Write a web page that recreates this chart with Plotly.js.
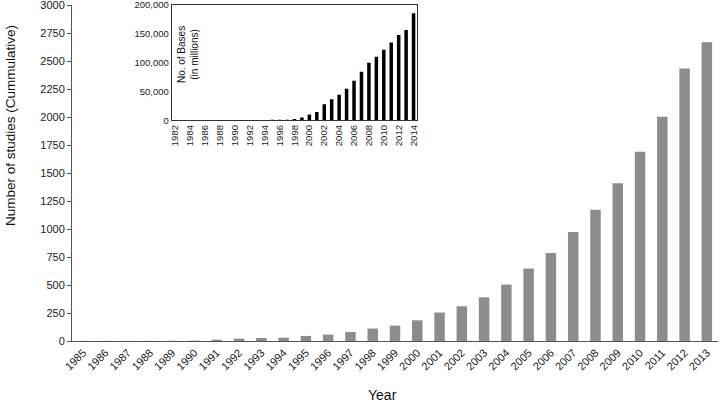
<!DOCTYPE html>
<html>
<head>
<meta charset="utf-8">
<script src="https://cdn.plot.ly/plotly-3.0.1.min.js"></script>
<style>html,body{margin:0;padding:0;background:#fff;}#chart{width:720px;height:402px;}</style>
</head>
<body>
<div id="chart"></div>
<script>
const studyYears = [1985,1986,1987,1988,1989,1990,1991,1992,1993,1994,1995,1996,1997,1998,1999,2000,2001,2002,2003,2004,2005,2006,2007,2008,2009,2010,2011,2012,2013];
const studies = [1,1,1,1,2,3,12,21,27,30,45,57,80,111,137,185,254,310,390,504,647,786,974,1171,1409,1689,2002,2434,2667];

const baseYears = [1982,1983,1984,1985,1986,1987,1988,1989,1990,1991,1992,1993,1994,1995,1996,1997,1998,1999,2000,2001,2002,2003,2004,2005,2006,2007,2008,2009,2010,2011,2012,2013,2014];
const bases = [0,0,0,0,0,0,0,0,300,400,400,500,600,700,800,1000,2200,4700,9800,14400,27700,36300,44400,54800,68600,84200,99700,110100,122200,134800,148100,156800,185500];

const mainYTicks = [0,250,500,750,1000,1250,1500,1750,2000,2250,2500,2750,3000];
const insetYTicks = [0,50000,100000,150000,200000];

const font = 'Liberation Sans, Arial, sans-serif';
const axisColor = '#555555';

const data = [
  {type:'bar', x: studyYears, y: studies, xaxis:'x', yaxis:'y',
   marker:{color:'#8c8c8c'}, hoverinfo:'x+y'},
  {type:'bar', x: baseYears, y: bases, xaxis:'x2', yaxis:'y2',
   marker:{color:'#000000'}, hoverinfo:'x+y'}
];

const layout = {
  width:720, height:402,
  margin:{l:72, r:2, t:5, b:61},
  paper_bgcolor:'#fff', plot_bgcolor:'rgba(0,0,0,0)',
  showlegend:false,
  bargap:0.53,
  font:{family:font, color:'#1a1a1a', size:11},
  xaxis:{
    domain:[0,1], range:[1984.5,2013.5], tickmode:'linear', tick0:1985, dtick:1,
    tickangle:-45, showgrid:false, zeroline:false, showline:true, linecolor:axisColor, linewidth:1,
    ticks:'', tickfont:{size:11, family:font}
  },
  yaxis:{
    domain:[0,1], range:[0,3000], tickvals:mainYTicks, showgrid:false, zeroline:false,
    showline:true, linecolor:axisColor, linewidth:1, ticks:'outside', ticklen:4, tickcolor:axisColor,
    tickfont:{size:11, family:font}, ticklabeloverflow:'allow'
  },
  xaxis2:{
    domain:[0.1543,0.5345], anchor:'y2', range:[1981.5,2014.5], tickmode:'linear', tick0:1982, dtick:2,
    tickangle:-90, showgrid:false, zeroline:false, showline:true, mirror:true, linecolor:'#333', linewidth:1,
    ticks:'', tickfont:{size:9.5, family:font}, ticklabeloverflow:'allow'
  },
  yaxis2:{
    domain:[0.657,1], anchor:'x2', range:[0,200000], tickvals:insetYTicks, tickformat:',d',
    showgrid:false, zeroline:false, showline:true, mirror:true, linecolor:'#333', linewidth:1,
    ticks:'', tickfont:{size:9.5, family:font}, ticklabeloverflow:'allow'
  },
  annotations:[
    {text:'Number of studies (Cummulative)', xref:'paper', yref:'paper', x:-0.096, y:0.6425,
     xanchor:'center', yanchor:'middle', textangle:-90, showarrow:false, font:{size:13.5, family:font, color:'#111'}},
    {text:'Year', xref:'paper', yref:'paper', x:0.4807, y:-0.1617,
     xanchor:'center', yanchor:'middle', showarrow:false, font:{size:14, family:font, color:'#111'}},
    {text:'No. of Bases<br>(in millions)', xref:'paper', yref:'paper', x:0.1796, y:0.851,
     xanchor:'center', yanchor:'middle', textangle:-90, showarrow:false, font:{size:10, family:font, color:'#111'}}
  ]
};

Plotly.newPlot('chart', data, layout, {displayModeBar:false, staticPlot:true});
</script>
</body>
</html>
